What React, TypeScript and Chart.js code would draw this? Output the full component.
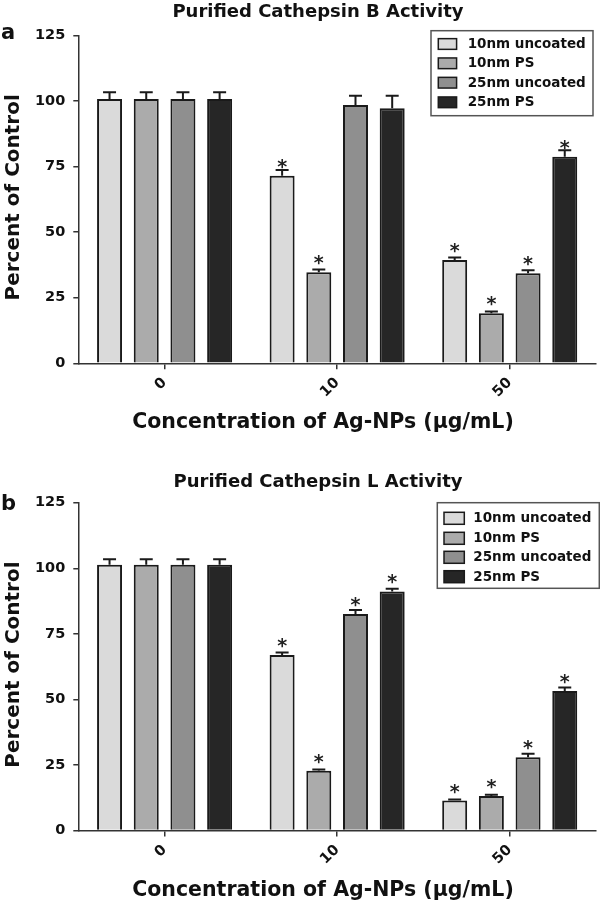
import React, { useEffect, useRef } from 'react';
import { Chart, registerables } from 'chart.js';

Chart.register(...registerables);

// ---------- data ----------
const CATEGORIES = ['0', '10', '50'];
const SERIES = ['10nm uncoated', '10nm PS', '25nm uncoated', '25nm PS'];
const Y_MIN = 0;
const Y_MAX = 125;
const Y_STEP = 25;

// Panel a: Purified Cathepsin B Activity
const A_10NM_UNCOATED = [100.8, 71.5, 39.4];
const A_10NM_PS = [100.8, 34.7, 19.1];
const A_25NM_UNCOATED = [100.8, 98.5, 34.3];
const A_25NM_PS = [100.8, 97.2, 78.7];
const A_ERR_10NM_UNCOATED = [2.5, 2.2, 0.9];
const A_ERR_10NM_PS = [2.5, 1.1, 0.6];
const A_ERR_25NM_UNCOATED = [2.5, 3.5, 1.2];
const A_ERR_25NM_PS = [2.5, 4.8, 2.5];
const A_STAR_10NM_UNCOATED = [false, true, true];
const A_STAR_10NM_PS = [false, true, true];
const A_STAR_25NM_UNCOATED = [false, false, true];
const A_STAR_25NM_PS = [false, false, true];

// Panel b: Purified Cathepsin L Activity
const B_10NM_UNCOATED = [101.3, 66.9, 11.4];
const B_10NM_PS = [101.3, 22.8, 13.2];
const B_25NM_UNCOATED = [101.3, 82.6, 27.9];
const B_25NM_PS = [101.3, 91.1, 53.2];
const B_ERR_10NM_UNCOATED = [2.1, 1.0, 0.4];
const B_ERR_10NM_PS = [2.1, 0.5, 0.4];
const B_ERR_25NM_UNCOATED = [2.1, 1.5, 1.4];
const B_ERR_25NM_PS = [2.1, 1.1, 1.3];
const B_STAR_10NM_UNCOATED = [false, true, true];
const B_STAR_10NM_PS = [false, true, true];
const B_STAR_25NM_UNCOATED = [false, true, true];
const B_STAR_25NM_PS = [false, true, true];

const TITLE_A = 'Purified Cathepsin B Activity';
const TITLE_B = 'Purified Cathepsin L Activity';
const Y_TITLE = 'Percent of Control';
const X_TITLE = 'Concentration of Ag-NPs (\u03bcg/mL)';

// ---------- styles ----------
const COLORS = ['#dadada', '#ababab', '#8f8f8f', '#262626'];
const EDGE = '#1a1a1a';
const FONT = 'DejaVu Sans';

type PanelCfg = {
  letter: string;
  title: string;
  values: number[][];
  errors: number[][];
  stars: boolean[][];
  canvasTop: number;
  canvasHeight: number;
  plotTop: number;
  plotBottom: number;
  titleY: number;
  letterY: number;
  legend: { x: number; y: number; w: number; h: number; rows: number[]; sx: number; sw: number; sh: number; tx: number };
};

const PANEL_A: PanelCfg = {
  letter: 'a',
  title: TITLE_A,
  values: [A_10NM_UNCOATED, A_10NM_PS, A_25NM_UNCOATED, A_25NM_PS],
  errors: [A_ERR_10NM_UNCOATED, A_ERR_10NM_PS, A_ERR_25NM_UNCOATED, A_ERR_25NM_PS],
  stars: [A_STAR_10NM_UNCOATED, A_STAR_10NM_PS, A_STAR_25NM_UNCOATED, A_STAR_25NM_PS],
  canvasTop: 0,
  canvasHeight: 450,
  plotTop: 35.4,
  plotBottom: 363.3,
  titleY: 17,
  letterY: 39.3,
  legend: { x: 431, y: 30.7, w: 162, h: 85, rows: [44, 63.3, 82.7, 102.3], sx: 438.3, sw: 18.3, sh: 10.7, tx: 467.7 },
};

const PANEL_B: PanelCfg = {
  letter: 'b',
  title: TITLE_B,
  values: [B_10NM_UNCOATED, B_10NM_PS, B_25NM_UNCOATED, B_25NM_PS],
  errors: [B_ERR_10NM_UNCOATED, B_ERR_10NM_PS, B_ERR_25NM_UNCOATED, B_ERR_25NM_PS],
  stars: [B_STAR_10NM_UNCOATED, B_STAR_10NM_PS, B_STAR_25NM_UNCOATED, B_STAR_25NM_PS],
  canvasTop: 450,
  canvasHeight: 451,
  plotTop: 52.7,
  plotBottom: 380.5,
  titleY: 36.7,
  letterY: 60,
  legend: { x: 437.3, y: 52.7, w: 162, h: 85.6, rows: [68.3, 88.3, 107.3, 126.7], sx: 444, sw: 20.3, sh: 12, tx: 473.3 },
};

function overlayPlugin(cfg: PanelCfg) {
  return {
    id: 'overlay' + cfg.letter,
    afterDatasetsDraw(chart: any) {
      const ctx = chart.ctx;
      const y = chart.scales.y;
      chart.data.datasets.forEach((ds: any, di: number) => {
        const meta = chart.getDatasetMeta(di);
        meta.data.forEach((bar: any, i: number) => {
          const v = ds.data[i];
          const e = cfg.errors[di][i];
          const top = y.getPixelForValue(v);
          const capY = y.getPixelForValue(v + e);
          ctx.save();
          ctx.strokeStyle = EDGE;
          ctx.lineWidth = 2;
          ctx.beginPath();
          ctx.moveTo(bar.x, top);
          ctx.lineTo(bar.x, capY);
          ctx.moveTo(bar.x - 6.5, capY);
          ctx.lineTo(bar.x + 6.5, capY);
          ctx.stroke();
          if (cfg.stars[di][i]) {
            ctx.font = `bold 19px "${FONT}"`;
            ctx.textAlign = 'center';
            ctx.textBaseline = 'alphabetic';
            ctx.fillStyle = '#222';
            ctx.fillText('*', bar.x, top - 13.5 + 10.4);
          }
          ctx.restore();
        });
      });
    },
    afterDraw(chart: any) {
      const ctx = chart.ctx;
      const area = chart.chartArea;
      ctx.save();
      ctx.fillStyle = '#111';
      // title
      ctx.font = `bold 18px "${FONT}"`;
      ctx.textAlign = 'center';
      ctx.textBaseline = 'alphabetic';
      ctx.fillText(cfg.title, 318, cfg.titleY);
      // panel letter
      ctx.font = `bold 21px "${FONT}"`;
      ctx.textAlign = 'left';
      ctx.fillText(cfg.letter, 1, cfg.letterY);
      // x title
      ctx.font = `bold 20.5px "${FONT}"`;
      ctx.textAlign = 'center';
      ctx.fillText(X_TITLE, 323, area.bottom + 65);
      // y title
      ctx.save();
      ctx.translate(13.5, (area.top + area.bottom) / 2 - 2);
      ctx.rotate(-Math.PI / 2);
      ctx.font = `bold 20px "${FONT}"`;
      ctx.textAlign = 'center';
      ctx.textBaseline = 'middle';
      ctx.fillText(Y_TITLE, 0, 0);
      ctx.restore();
      // legend
      const L = cfg.legend;
      ctx.fillStyle = '#fff';
      ctx.fillRect(L.x, L.y, L.w, L.h);
      ctx.strokeStyle = '#555';
      ctx.lineWidth = 1.5;
      ctx.strokeRect(L.x, L.y, L.w, L.h);
      ctx.font = `bold 13.5px "${FONT}"`;
      ctx.textAlign = 'left';
      ctx.textBaseline = 'middle';
      SERIES.forEach((label, i) => {
        const ry = L.rows[i];
        ctx.fillStyle = COLORS[i];
        ctx.fillRect(L.sx, ry - L.sh / 2, L.sw, L.sh);
        ctx.strokeStyle = EDGE;
        ctx.lineWidth = 1.5;
        ctx.strokeRect(L.sx, ry - L.sh / 2, L.sw, L.sh);
        ctx.fillStyle = '#111';
        ctx.fillText(label, L.tx, ry + 0.5);
      });
      ctx.restore();
    },
  };
}

function Panel({ cfg }: { cfg: PanelCfg }) {
  const ref = useRef<HTMLCanvasElement>(null);
  useEffect(() => {
    const tickFont = { family: FONT, size: 14.5, weight: 'bold' as const };
    const chart = new Chart(ref.current as HTMLCanvasElement, {
      type: 'bar',
      data: {
        labels: CATEGORIES,
        datasets: SERIES.map((label, i) => ({
          label,
          data: cfg.values[i],
          backgroundColor: COLORS[i],
          borderColor: EDGE,
          borderWidth: 2,
          categoryPercentage: 0.8505,
          barPercentage: 0.681,
        })),
      },
      options: {
        responsive: false,
        animation: false,
        layout: { padding: { top: cfg.plotTop, left: 0, right: 4, bottom: 0 } },
        plugins: { legend: { display: false }, tooltip: { enabled: false }, title: { display: false } },
        scales: {
          x: {
            offset: true,
            grid: { offset: false, drawOnChartArea: false, drawTicks: true, tickLength: 6, color: '#333', lineWidth: 1.5 },
            border: { display: true, color: '#333', width: 1.5 },
            ticks: { minRotation: 45, maxRotation: 45, padding: 5, color: '#111', font: tickFont },
            afterFit: (s: any) => {
              s.height = cfg.canvasHeight - cfg.plotBottom;
            },
          },
          y: {
            min: Y_MIN,
            max: Y_MAX,
            ticks: { stepSize: Y_STEP, padding: 8, color: '#111', font: tickFont },
            grid: { drawOnChartArea: false, drawTicks: true, tickLength: 5, color: '#333', lineWidth: 1.5 },
            border: { display: true, color: '#333', width: 1.5 },
            afterFit: (s: any) => {
              s.width = 78.3;
            },
          },
        },
      } as any,
      plugins: [overlayPlugin(cfg)],
    });
    return () => chart.destroy();
  }, [cfg]);
  return (
    <canvas
      ref={ref}
      width={600}
      height={cfg.canvasHeight}
      style={{ position: 'absolute', left: 0, top: cfg.canvasTop, width: 600, height: cfg.canvasHeight }}
    />
  );
}

export default function App() {
  return (
    <div style={{ position: 'absolute', left: 0, top: 0, width: 600, height: 901, background: '#fff' }}>
      <Panel cfg={PANEL_A} />
      <Panel cfg={PANEL_B} />
    </div>
  );
}
